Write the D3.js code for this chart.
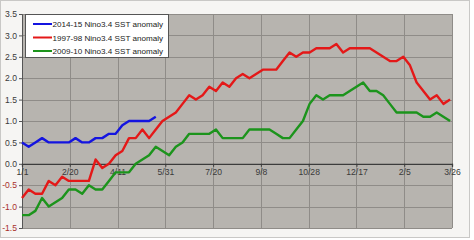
<!DOCTYPE html>
<html>
<head>
<meta charset="utf-8">
<title>Nino3.4 SST anomaly</title>
<script src="https://d3js.org/d3.v7.min.js"></script>
<style>
  body { margin: 0; background: #ffffff; }
  svg text { font-family: "Liberation Sans", Arial, sans-serif; }
</style>
</head>
<body>
<svg id="chart" width="474" height="240"></svg>
<script>
// weekly anomalies, first point = 1/1
var blue2014 = [0.5,0.4,0.5,0.6,0.5,0.5,0.5,0.5,0.6,0.5,0.5,0.6,0.6,0.7,0.7,0.9,1.0,1.0,1.0,1.0,1.1];
var red1997 = [-0.8,-0.6,-0.7,-0.7,-0.4,-0.5,-0.3,-0.4,-0.4,-0.4,-0.4,0.1,-0.1,0.0,0.2,0.3,
  0.6,0.6,0.8,0.6,0.8,1.0,1.1,1.2,1.4,1.6,1.5,1.6,1.8,1.7,1.9,1.8,2.0,2.1,2.0,2.1,2.2,2.2,2.2,
  2.4,2.6,2.5,2.6,2.6,2.7,2.7,2.7,2.8,2.6,2.7,2.7,2.7,2.7,2.6,2.5,2.4,2.4,2.5,2.3,1.9,1.7,1.5,1.6,1.4,1.5];
var green2009 = [-1.2,-1.2,-1.1,-0.8,-1.0,-0.9,-0.8,-0.6,-0.6,-0.7,-0.5,-0.6,-0.6,-0.4,-0.2,-0.2,
  -0.2,0.0,0.1,0.2,0.4,0.3,0.2,0.4,0.5,0.7,0.7,0.7,0.7,0.8,0.6,0.6,0.6,0.6,0.8,0.8,0.8,0.8,0.7,
  0.6,0.6,0.8,1.0,1.4,1.6,1.5,1.6,1.6,1.6,1.7,1.8,1.9,1.7,1.7,1.6,1.4,1.2,1.2,1.2,1.2,1.1,1.1,1.2,1.1,1.0];

var seriesNames = ["2014-15 Nino3.4 SST anomaly", "1997-98 Nino3.4 SST anomaly", "2009-10 Nino3.4 SST anomaly"];
var seriesColors = ["#1414e0", "#e41818", "#1c941c"];

// x tick labels every 50 days
var tickDays = [0,50,100,150,200,250,300,350,400,450];
var tickLabels = ["1/1","2/20","4/11","5/31","7/20","9/8","10/28","12/17","2/5","3/26"];
var yTicks = [-1.5,-1.0,-0.5,0.0,0.5,1.0,1.5,2.0,2.5,3.0,3.5];

var svg = d3.select("#chart");
var plot = {left: 22, right: 452, top: 14, bottom: 228};

var x = d3.scaleLinear().domain([0, 450]).range([plot.left, plot.right]);
var y = d3.scaleLinear().domain([-1.5, 3.5]).range([plot.bottom, plot.top]);

// outer chart area
svg.append("rect")
  .attr("x", 0.5).attr("y", 0.5)
  .attr("width", 469).attr("height", 237)
  .attr("fill", "#f6f5f3")
  .attr("stroke", "#c9c8c6");

// plot area
svg.append("rect")
  .attr("x", plot.left).attr("y", plot.top)
  .attr("width", plot.right - plot.left).attr("height", plot.bottom - plot.top)
  .attr("fill", "#b7b4af");

// grid
svg.append("g").selectAll("line")
  .data(yTicks)
  .enter().append("line")
  .attr("x1", plot.left).attr("x2", plot.right)
  .attr("y1", function(d) { return Math.round(y(d)) + 0.5; })
  .attr("y2", function(d) { return Math.round(y(d)) + 0.5; })
  .attr("stroke", "#8f8c88").attr("stroke-width", 1);

svg.append("g").selectAll("line")
  .data(tickDays.slice(1))
  .enter().append("line")
  .attr("x1", function(d) { return Math.round(x(d)) + 0.5; })
  .attr("x2", function(d) { return Math.round(x(d)) + 0.5; })
  .attr("y1", plot.top).attr("y2", plot.bottom)
  .attr("stroke", "#8f8c88").attr("stroke-width", 1);

// y axis on the left (plain hyphen for negatives, like excel)
var yAxis = d3.axisLeft(y).tickValues(yTicks).tickSize(3).tickPadding(2)
  .tickFormat(function(d) { return d.toFixed(1); });
var yg = svg.append("g")
  .attr("transform", "translate(" + plot.left + ",0)")
  .call(yAxis);
yg.select(".domain").attr("stroke", "#555");
yg.selectAll(".tick line").attr("stroke", "#555");
yg.selectAll(".tick text")
  .style("font-size", "8.6px")
  .attr("fill", function(d) { return d < 0 ? "#a8302c" : "#3a3a3a"; });

// x axis crosses at zero
var xAxis = d3.axisBottom(x).tickValues(tickDays).tickSize(3).tickPadding(2)
  .tickFormat(function(d, i) { return tickLabels[i]; });
var xg = svg.append("g")
  .attr("transform", "translate(0," + y(0) + ")")
  .call(xAxis);
xg.select(".domain").attr("stroke", "#3c3c3c").attr("stroke-width", 1.3);
xg.selectAll(".tick line").attr("stroke", "#3c3c3c");
xg.selectAll(".tick text")
  .style("font-size", "8.6px")
  .attr("fill", "#3a3a3a");

// series lines
var line = d3.line()
  .x(function(d, i) { return x(i * 7); })
  .y(function(d) { return y(d); });

var allSeries = [blue2014, red1997, green2009];
// draw order: green, red, blue on top
[2, 1, 0].forEach(function(k) {
  svg.append("path")
    .datum(allSeries[k])
    .attr("d", line)
    .attr("fill", "none")
    .attr("stroke", seriesColors[k])
    .attr("stroke-width", 2.4)
    .attr("stroke-linejoin", "round");
});

// legend
var legend = svg.append("g");
legend.append("rect")
  .attr("x", 25.5).attr("y", 14.5)
  .attr("width", 143).attr("height", 43)
  .attr("fill", "#ffffff")
  .attr("stroke", "#555");

seriesNames.forEach(function(name, i) {
  var ly = 24 + i * 13.5;
  legend.append("line")
    .attr("x1", 33).attr("x2", 52)
    .attr("y1", ly).attr("y2", ly)
    .attr("stroke", seriesColors[i])
    .attr("stroke-width", 2);
  legend.append("text")
    .attr("x", 52.5).attr("y", ly + 3)
    .style("font-size", "8.1px")
    .attr("fill", "#222")
    .text(name);
});
</script>
</body>
</html>
